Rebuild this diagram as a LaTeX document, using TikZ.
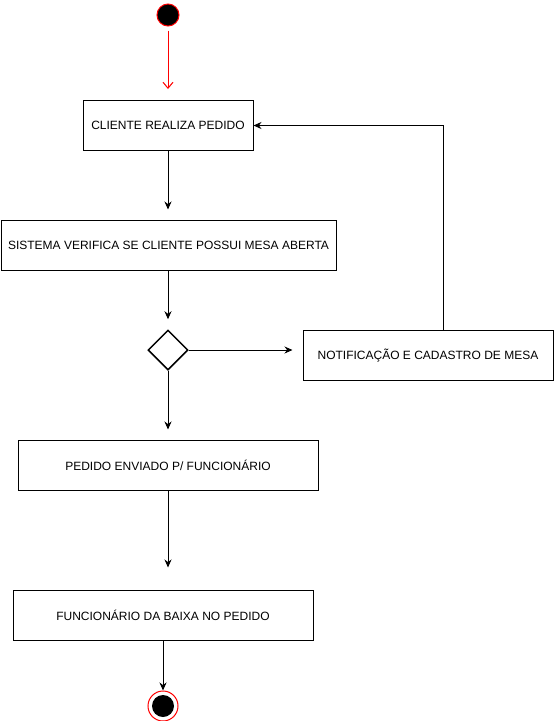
\documentclass[tikz,border=0pt]{standalone}
\usepackage{fontspec}
\setmainfont{Liberation Sans}
\usepackage{tikz}
\usetikzlibrary{arrows.meta, shapes.geometric}
\definecolor{RED}{HTML}{FF0000}
\definecolor{BLACK}{HTML}{000000}

\begin{document}
\begin{tikzpicture}[x=1pt, y=-1pt, line width=1pt,
    acao/.style={draw=BLACK, rectangle, minimum height=50pt, inner sep=0pt, font=\fontsize{12}{14}\selectfont},
    fluxo/.style={BLACK, -{Stealth[length=8pt, width=7pt]}}]
    \useasboundingbox (0,0) rectangle (554,721);
    \node[circle, fill=BLACK, draw=RED, minimum size=22pt, inner sep=0pt] (inicio) at (168,15) {};
    \coordinate (fimseta) at (168,89);
    \node[acao, minimum width=170pt] (cliente) at (168,125.5) {CLIENTE REALIZA PEDIDO};
    \node[acao, minimum width=335pt] (sistema) at (168.5,245) {SISTEMA VERIFICA SE CLIENTE POSSUI MESA ABERTA};
    \node[diamond, draw=BLACK, line width=1.5pt, minimum size=40pt, inner sep=0pt] (decisao) at (168,350) {};
    \node[acao, minimum width=250pt] (notif) at (428,355) {NOTIFICAÇÃO E CADASTRO DE MESA};
    \node[acao, minimum width=300pt] (enviado) at (168,465) {PEDIDO ENVIADO P/ FUNCIONÁRIO};
    \node[acao, minimum width=300pt] (baixa) at (163,615) {FUNCIONÁRIO DA BAIXA NO PEDIDO};
    \node[circle, draw=RED, minimum size=30pt, inner sep=0pt] (fim) at (163,706) {};
    \fill[BLACK] (fim) circle (11pt);
    \coordinate (retorno) at (443,125.5);
    % ligacoes
    \draw[RED, -{Straight Barb[length=6pt, width=10pt]}, shorten <=4pt] (inicio) -- (fimseta);
    \draw[fluxo, shorten >=10pt] (cliente.south) -- (cliente.south |- sistema.north);
    \draw[fluxo, shorten >=10pt] (decisao.north |- sistema.south) -- (decisao.north);
    \draw[fluxo, shorten >=10pt] (decisao.east) -- (decisao.east -| notif.west);
    \draw[fluxo, shorten >=10pt] (decisao.south) -- (enviado.north);
    \draw[fluxo, shorten >=22pt] (enviado.south) -- (enviado.south |- baixa.north);
    \draw[fluxo] (baixa) -- (fim);
    \draw[fluxo] (notif.north -| retorno) -- (retorno) -- (cliente.east);
\end{tikzpicture}
\end{document}
